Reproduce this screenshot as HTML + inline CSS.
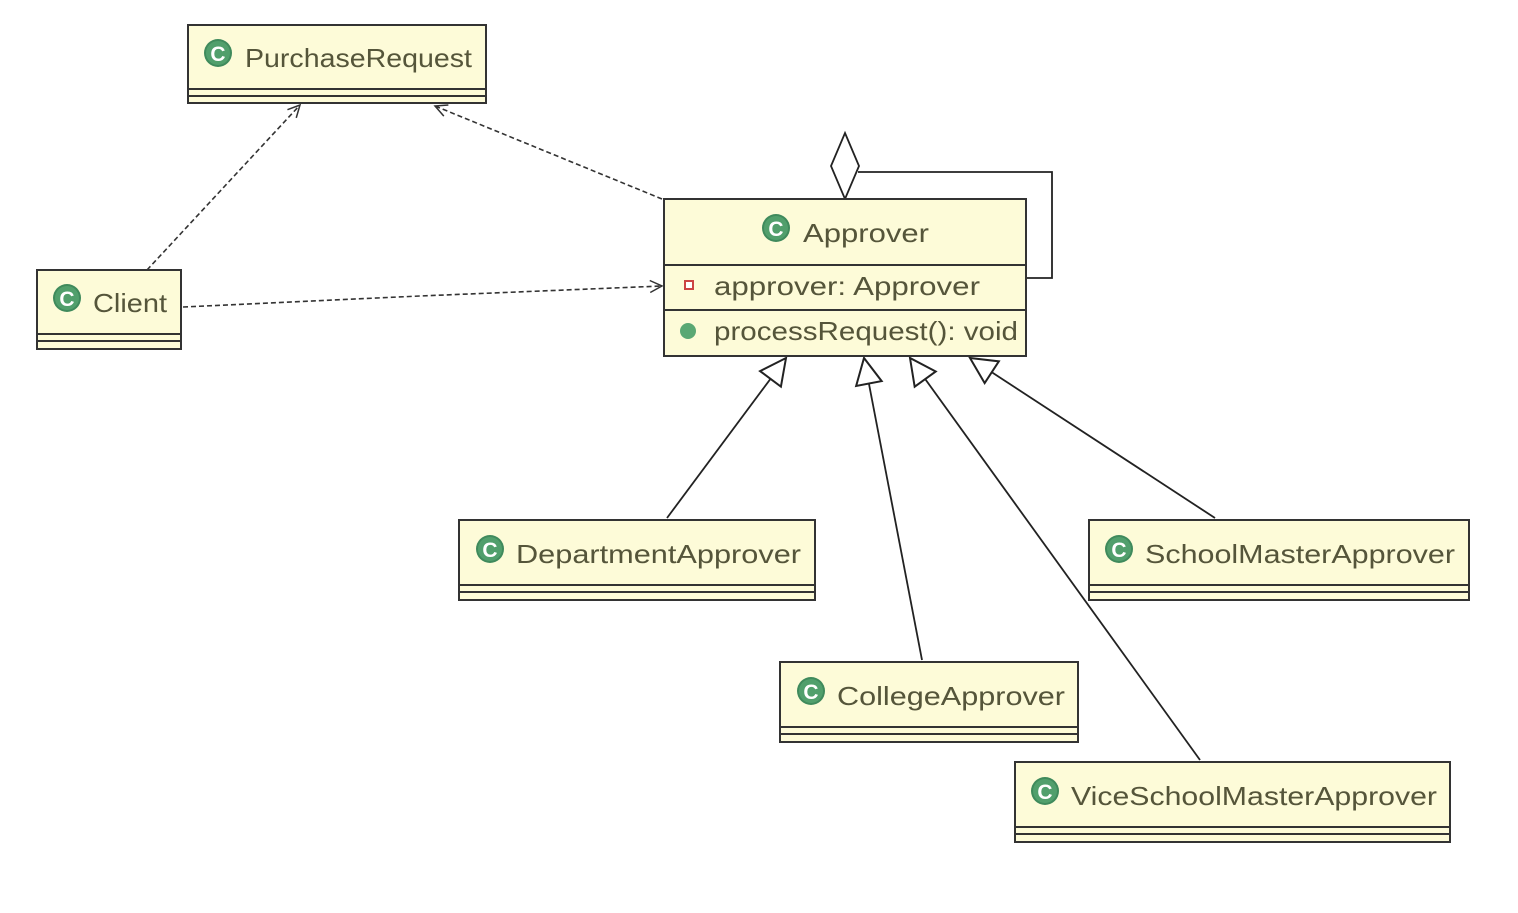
<!DOCTYPE html>
<html><head><style>
html,body{margin:0;padding:0;background:#fff;}
svg text{font-family:"Liberation Sans","DejaVu Sans",sans-serif;fill:#55553a;}
</style></head><body>
<svg width="1518" height="908" viewBox="0 0 1518 908" xmlns="http://www.w3.org/2000/svg">
<defs>
<marker id="open" markerWidth="16" markerHeight="16" refX="14" refY="8" orient="auto" markerUnits="userSpaceOnUse">
<path d="M2,2 L14,8 L2,14" fill="none" stroke="#333" stroke-width="1.5"/>
</marker>
<marker id="tri" markerWidth="30" markerHeight="30" refX="28" refY="15" orient="auto" markerUnits="userSpaceOnUse">
<path d="M2,2 L28,15 L2,28 Z" fill="#fff" stroke="#222" stroke-width="2"/>
</marker>
<g id="ic"><circle r="14" fill="#3f8a5c"/><circle r="12" fill="#5aa874" opacity="0.7"/><text x="0" y="8" text-anchor="middle" font-size="21" font-weight="bold" style="fill:#fff">C</text></g>
</defs>
<g stroke="#333" stroke-width="1.6" fill="none" stroke-dasharray="5,3">
<line x1="147" y1="270" x2="300" y2="105" marker-end="url(#open)"/>
<line x1="662" y1="199" x2="435" y2="106" marker-end="url(#open)"/>
<polyline points="183,307 420,296 662,286" marker-end="url(#open)"/>
</g>
<g stroke="#222" stroke-width="1.8" fill="none">
<line x1="667" y1="518" x2="786" y2="358" marker-end="url(#tri)"/>
<line x1="922" y1="660" x2="864" y2="358" marker-end="url(#tri)"/>
<line x1="1200" y1="760" x2="910" y2="358" marker-end="url(#tri)"/>
<line x1="1215" y1="518" x2="970" y2="358" marker-end="url(#tri)"/>
<polyline points="858,172 1052,172 1052,278 1026,278"/>
<path d="M845,133 L859,166 L845,199 L831,166 Z" fill="#fff"/>
</g>
<g stroke="#333" stroke-width="2" fill="#fdfbd8">
<rect x="188" y="25" width="298" height="78"/><line x1="188" y1="89" x2="486" y2="89"/><line x1="188" y1="96" x2="486" y2="96"/>
<rect x="37" y="270" width="144" height="79"/><line x1="37" y1="334" x2="181" y2="334"/><line x1="37" y1="341" x2="181" y2="341"/>
<rect x="664" y="199" width="362" height="157"/><line x1="664" y1="265" x2="1026" y2="265"/><line x1="664" y1="310" x2="1026" y2="310"/>
<rect x="459" y="520" width="356" height="80"/><line x1="459" y1="585" x2="815" y2="585"/><line x1="459" y1="592" x2="815" y2="592"/>
<rect x="1089" y="520" width="380" height="80"/><line x1="1089" y1="585" x2="1469" y2="585"/><line x1="1089" y1="592" x2="1469" y2="592"/>
<rect x="780" y="662" width="298" height="80"/><line x1="780" y1="727" x2="1078" y2="727"/><line x1="780" y1="734" x2="1078" y2="734"/>
<rect x="1015" y="762" width="435" height="80"/><line x1="1015" y1="827" x2="1450" y2="827"/><line x1="1015" y1="834" x2="1450" y2="834"/>
</g>
<use href="#ic" x="218" y="53"/><text x="245" y="67" font-size="26" textLength="227" lengthAdjust="spacingAndGlyphs">PurchaseRequest</text>
<use href="#ic" x="67" y="298"/><text x="93" y="312" font-size="26" textLength="74" lengthAdjust="spacingAndGlyphs">Client</text>
<use href="#ic" x="776" y="228"/><text x="803" y="242" font-size="26" textLength="126" lengthAdjust="spacingAndGlyphs">Approver</text>
<rect x="685" y="281" width="8" height="8" fill="#fff" stroke="#c44" stroke-width="2"/>
<text x="714" y="295" font-size="26" textLength="266" lengthAdjust="spacingAndGlyphs">approver: Approver</text>
<circle cx="688" cy="331" r="8" fill="#5aa874"/>
<text x="714" y="340" font-size="26" textLength="304" lengthAdjust="spacingAndGlyphs">processRequest(): void</text>
<use href="#ic" x="490" y="549"/><text x="516" y="563" font-size="26" textLength="285" lengthAdjust="spacingAndGlyphs">DepartmentApprover</text>
<use href="#ic" x="1119" y="549"/><text x="1145" y="563" font-size="26" textLength="310" lengthAdjust="spacingAndGlyphs">SchoolMasterApprover</text>
<use href="#ic" x="811" y="691"/><text x="837" y="705" font-size="26" textLength="228" lengthAdjust="spacingAndGlyphs">CollegeApprover</text>
<use href="#ic" x="1045" y="791"/><text x="1071" y="805" font-size="26" textLength="366" lengthAdjust="spacingAndGlyphs">ViceSchoolMasterApprover</text>
</svg>
</body></html>
